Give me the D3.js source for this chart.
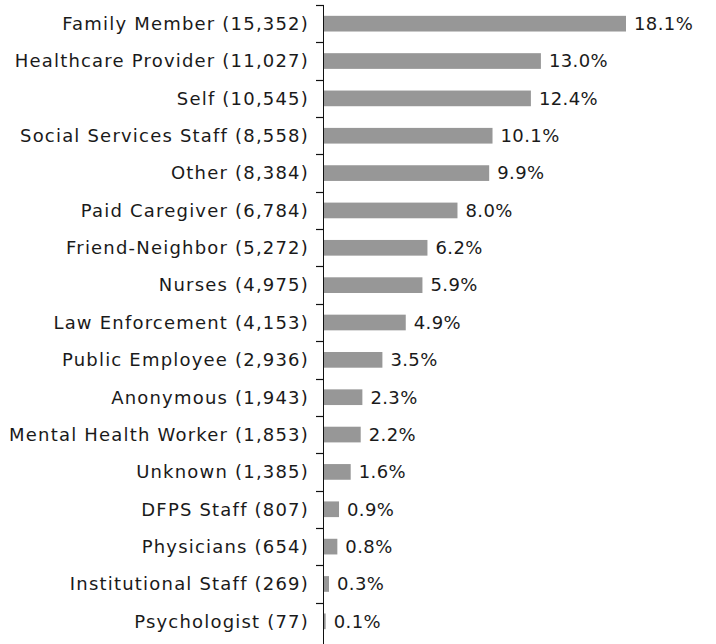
<!DOCTYPE html>
<html>
<head>
<meta charset="utf-8">
<script src="https://cdn.jsdelivr.net/npm/d3@7"></script>
<style>
  body { margin: 0; background: #fff; }
  text { font-family: "DejaVu Sans", sans-serif; fill: #1a1a1a; }
</style>
</head>
<body>
<svg width="716" height="644"></svg>
<script>
// reporter sources
let categories = ["Family Member", "Healthcare Provider", "Self", "Social Services Staff", "Other",
  "Paid Caregiver", "Friend-Neighbor", "Nurses", "Law Enforcement", "Public Employee",
  "Anonymous", "Mental Health Worker", "Unknown", "DFPS Staff", "Physicians",
  "Institutional Staff", "Psychologist"];
let counts = [15352, 11027, 10545, 8558, 8384, 6784, 5272, 4975, 4153, 2936,
  1943, 1853, 1385, 807, 654, 269, 77];
let percents = [18.1, 13.0, 12.4, 10.1, 9.9, 8.0, 6.2, 5.9, 4.9, 3.5,
  2.3, 2.2, 1.6, 0.9, 0.8, 0.3, 0.1];

let svg = d3.select("svg");
let margin = { top: 5, left: 324 };
let height = 640;

let data = categories.map((c, i) => ({ cat: c, count: counts[i], pct: percents[i] }));

let fmt = d3.format(",d");

let y = d3.scaleBand()
  .domain(categories)
  .range([margin.top, height])
  .paddingInner(0.58)
  .paddingOuter(0.29);

let x = d3.scaleLinear()
  .domain([0, 18.1])
  .range([0, 302]);

let g = svg.append("g").attr("transform", `translate(${margin.left},0)`);

// bars
g.selectAll(".bar")
  .data(data)
  .enter()
  .append("rect")
  .attr("class", "bar")
  .attr("x", 0)
  .attr("y", d => y(d.cat))
  .attr("width", d => x(d.pct))
  .attr("height", y.bandwidth())
  .style("fill", "#979797");

// value labels
g.selectAll(".val")
  .data(data)
  .enter()
  .append("text")
  .attr("class", "val")
  .attr("x", d => x(d.pct) + 8)
  .attr("y", d => y(d.cat) + y.bandwidth() / 2)
  .attr("dy", "0.35em")
  .style("font-size", "18px")
  .style("letter-spacing", "0.4px")
  .text(d => d.pct.toFixed(1) + "%");

// category labels
g.selectAll(".lab")
  .data(data)
  .enter()
  .append("text")
  .attr("class", "lab")
  .attr("x", -15)
  .attr("y", d => y(d.cat) + y.bandwidth() / 2)
  .attr("dy", "0.35em")
  .attr("text-anchor", "end")
  .style("font-size", "18px")
  .style("letter-spacing", "1.2px")
  .text(d => `${d.cat} (${fmt(d.count)})`);

// axis line with ticks between bands
let step = y.step();
let ticks = d3.range(categories.length + 1).map(i => margin.top + i * step);
g.append("line")
  .attr("x1", -0.5).attr("x2", -0.5)
  .attr("y1", margin.top).attr("y2", height + 4)
  .style("stroke", "#111").style("stroke-width", 1);
g.selectAll(".tick")
  .data(ticks.slice(0, -1))
  .enter()
  .append("line")
  .attr("class", "tick")
  .attr("x1", -8).attr("x2", 0)
  .attr("y1", d => Math.round(d) + 0.5).attr("y2", d => Math.round(d) + 0.5)
  .style("stroke", "#111").style("stroke-width", 1.2);
</script>
</body>
</html>
